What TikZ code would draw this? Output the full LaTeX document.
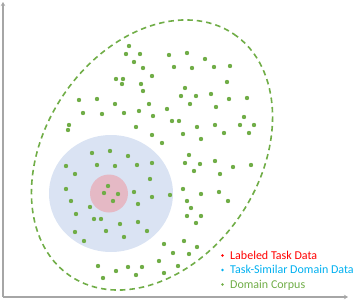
\documentclass[tikz,border=0pt]{standalone}
\usepackage{fontspec}
\setmainfont{Carlito}
\usepackage{xcolor}
\usepackage{tikz}
\usetikzlibrary{arrows.meta,positioning}

\definecolor{corpusgreen}{RGB}{112,173,71}
\definecolor{similarblue}{RGB}{0,176,240}
\definecolor{similarfill}{RGB}{218,227,243}
\definecolor{labeledfill}{RGB}{229,185,197}
\definecolor{axisgray}{RGB}{166,166,166}

\begin{document}
\begin{tikzpicture}[
    x=1pt, y=-1pt,
    axis/.style={draw=axisgray, line width=1.5pt, -{Stealth[length=4pt,width=4.5pt]}},
    corpus/.style={draw=corpusgreen, line width=1.6pt, dash pattern=on 5.5pt off 4pt},
    point/.style={fill=corpusgreen},
    legend/.style={anchor=base west, inner sep=0pt, font=\fontsize{12}{14}\selectfont},
]
\useasboundingbox (0,0) rectangle (356,300);

% axes
\coordinate (origin) at (3,297);
\coordinate (ytop) at (3,2);
\coordinate (xend) at (348,297);
\draw[axis] (origin) -- (ytop);
\draw[axis] (origin) -- (xend);

% regions
\fill[similarfill] (111,193.5) ellipse [x radius=62, y radius=58.5];
\fill[labeledfill] (109,193.5) circle (19);
\draw[corpus, rotate around={56:(152,155)}] (152,155) ellipse [x radius=146, y radius=107];

% data points
\foreach \px/\py in {
    129/46, 126/54, 140/54, 134/62, 143/68, 169/55, 174/67, 152/76,
    116/79, 123/79, 122/84, 141/84, 143/91, 79/100, 97/99, 115/104,
    83/113, 102/114, 124/113, 139/111, 149/104, 153/116, 167/109, 172/121,
    179/121, 69/125, 68/130, 136/127, 152/135, 162/143, 187/53, 205/59,
    192/68, 214/67, 230/66, 227/82, 185/88, 181/96, 196/96, 211/94,
    190/104, 216/107, 229/99, 247/98, 244/117, 197/127, 215/125, 240/125,
    254/125, 183/134, 201/139, 224/133, 249/133,
    92/153, 110/151, 128/156, 66/166, 97/165, 115/166, 137/165, 152/163,
    75/174, 150/179, 66/189, 108/186, 104/193, 118/194, 113/201, 134/192,
    152/197, 170/195, 71/201, 90/207, 138/204, 76/214, 94/219, 101/219,
    120/224, 138/222, 75/232, 106/231, 147/231, 84/241, 124/237, 164/244,
    173/253, 159/261, 98/266, 128/267, 142/267, 116/271, 103/278, 136/275,
    164/273, 178/266, 189/155, 185/163, 200/164, 215/161, 233/167, 251/165,
    194/171, 220/174, 183/189, 201/194, 219/192, 187/201, 228/201, 191/208,
    187/216, 201/216, 196/223, 184/241, 189/254, 197/247}
    \fill[point] (\px,\py) circle (2.2);

% legend
\node[legend, text=red] (labeled) at (230,259) {Labeled Task Data};
\node[legend, text=similarblue] (similar) at (230,273.5) {Task-Similar Domain Data};
\node[legend, text=corpusgreen] (domain) at (230,288) {Domain Corpus};
\fill[red] ([shift={(-7.5,-3.5)}]labeled.base west) circle (1.4);
\fill[similarblue] ([shift={(-7.5,-3.5)}]similar.base west) circle (1.4);
\fill[corpusgreen] ([shift={(-7.5,-3.5)}]domain.base west) circle (1.4);
\end{tikzpicture}
\end{document}
